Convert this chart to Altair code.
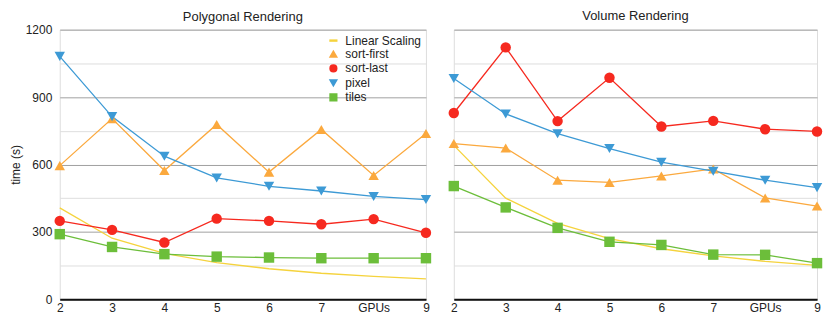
import altair as alt
import pandas as pd

gpus = [2, 3, 4, 5, 6, 7, 8, 9]
series = ["Linear Scaling", "sort-first", "sort-last", "pixel", "tiles"]
colors = ["#F5D33D", "#FBA93E", "#F6291F", "#3D9AD5", "#6CBE3A"]
shapes = ["M-1,-0.14H1V0.14H-1Z", "triangle-up", "circle", "triangle-down", "square"]

poly_linear = [407, 272, 204, 163, 136, 116, 102, 91]
poly_sort_first = [595, 804, 573, 778, 566, 756, 551, 738]
poly_sort_last = [349, 309, 253, 359, 349, 334, 357, 296]
poly_pixel = [1081, 813, 637, 540, 503, 482, 458, 444]
poly_tiles = [290, 233, 201, 190, 186, 183, 183, 183]

vol_linear = [685, 450, 338, 270, 225, 193, 169, 151]
vol_sort_first = [693, 673, 530, 520, 549, 580, 451, 415]
vol_sort_last = [829, 1121, 793, 986, 769, 794, 757, 747]
vol_pixel = [983, 825, 737, 671, 610, 570, 530, 497]
vol_tiles = [504, 409, 318, 256, 242, 199, 198, 161]

y_values = [0, 150, 300, 450, 600, 750, 900, 1050, 1200]
FONT = "Liberation Sans"


def make_df(lists):
    rows = []
    for name, vals in zip(series, lists):
        for g, v in zip(gpus, vals):
            rows.append({"gpus": g, "time": v, "series": name})
    return pd.DataFrame(rows)


poly_df = make_df([poly_linear, poly_sort_first, poly_sort_last, poly_pixel, poly_tiles])
vol_df = make_df([vol_linear, vol_sort_first, vol_sort_last, vol_pixel, vol_tiles])


def panel(df, title, left, width):
    x = alt.X(
        "gpus:Q",
        scale=alt.Scale(domain=[2, 9], nice=False, zero=False),
        axis=alt.Axis(
            values=gpus,
            labelExpr="datum.value == 8 ? 'GPUs' : datum.label",
            title=None, grid=False, ticks=False,
            domain=True, domainColor="#111111", domainWidth=2,
            labelFlush=False, labelPadding=3, labelFontSize=12,
            labelColor="#222222", labelFont=FONT, minExtent=0,
        ),
    )
    if left:
        y_axis = alt.Axis(
            values=y_values,
            labelExpr="datum.value % 300 == 0 ? datum.label : ''",
            format="d",
            title="time (s)",
            titleFontSize=12, titleFontWeight="normal", titleColor="#222222",
            titleFont=FONT, titlePadding=3,
            labelFontSize=12, labelColor="#222222", labelFont=FONT,
            labelPadding=8, minExtent=0,
            ticks=False, domain=False,
            grid=True,
            gridColor=alt.condition("datum.value % 300 == 0", alt.value("#A0A0A0"), alt.value("#DEDEDE")),
            gridWidth=1,
        )
    else:
        y_axis = alt.Axis(
            values=y_values, title=None, labels=False, labelPadding=0,
            minExtent=0, maxExtent=0,
            ticks=False, domain=False, grid=True,
            gridColor=alt.condition("datum.value % 300 == 0", alt.value("#A0A0A0"), alt.value("#DEDEDE")),
            gridWidth=1,
        )
    y = alt.Y("time:Q", scale=alt.Scale(domain=[0, 1200], nice=False), axis=y_axis)

    if left:
        legend = alt.Legend(
            title=None, orient="none", legendX=269, legendY=5, padding=0,
            labelFontSize=12, labelFont=FONT, labelColor="#222222",
            symbolSize=45, rowPadding=1.5, symbolOffset=0, labelOffset=6,
        )
    else:
        legend = None

    color = alt.Color("series:N", scale=alt.Scale(domain=series, range=colors), legend=legend)
    shape = alt.Shape("series:N", scale=alt.Scale(domain=series, range=shapes), legend=legend)

    lines = alt.Chart(df).mark_line(strokeWidth=1.3).encode(x=x, y=y, color=color)
    points = (
        alt.Chart(df)
        .transform_filter("datum.series != 'Linear Scaling'")
        .mark_point(filled=True, opacity=1, size=110)
        .encode(x=x, y=y, color=color, shape=shape)
    )
    return alt.layer(lines, points).properties(
        width=width, height=271,
        title=alt.TitleParams(title, fontSize=13, fontWeight="normal", font=FONT,
                              color="#222222", anchor="middle",
                              offset=0 if left else 7),
    )


chart = (
    alt.hconcat(panel(poly_df, "Polygonal Rendering", True, 368),
                panel(vol_df, "Volume Rendering", False, 365),
                spacing=28, bounds="flush")
    .resolve_scale(color="independent", shape="independent")
    .properties(padding=0)
    .configure_view(stroke=None)
    .configure(font=FONT)
)

chart.save("out.html", embed_options={"renderer": "svg", "actions": False})
